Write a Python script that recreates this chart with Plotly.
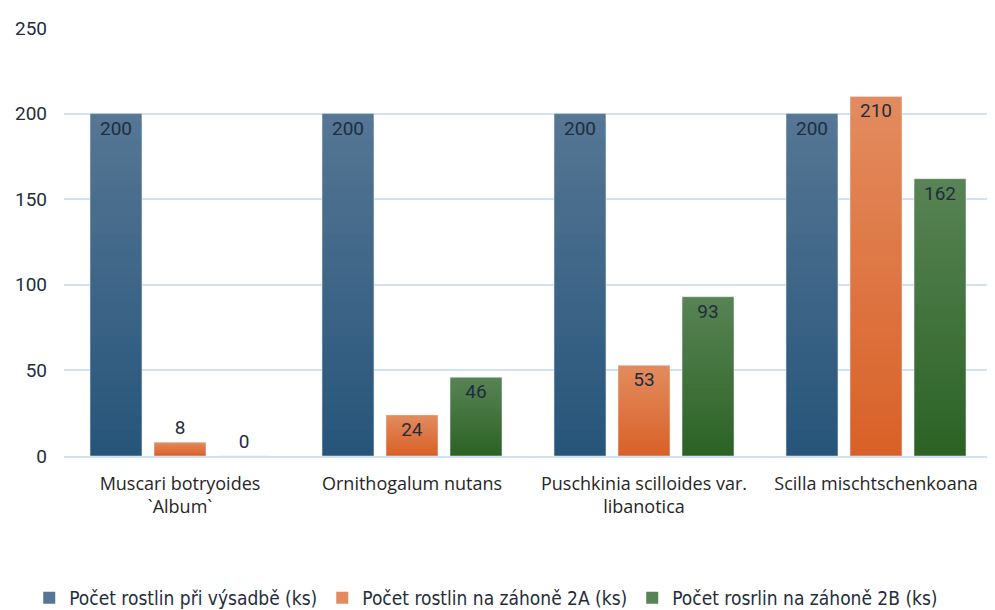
import plotly.graph_objects as go

# chart data
categories = ["Muscari botryoides<br>`Album`", "Ornithogalum nutans",
              "Puschkinia scilloides var.<br>libanotica", "Scilla mischtschenkoana"]
series_names = ["Počet rostlin při výsadbě (ks)",
                "Počet rostlin na záhoně 2A (ks)",
                "Počet rosrlin na záhoně 2B (ks)"]
vysadba = [200, 200, 200, 200]
zahon_2a = [8, 24, 53, 210]
zahon_2b = [0, 46, 93, 162]
y_ticks = [0, 50, 100, 150, 200, 250]

# (top colour, bottom colour) per series - bars fade darker downwards
colors = [((0x55, 0x76, 0x94), (0x27, 0x55, 0x7a)),
          ((0xe3, 0x8b, 0x5e), (0xd9, 0x61, 0x28)),
          ((0x58, 0x83, 0x54), (0x2c, 0x63, 0x25))]
N_BANDS = 40


def mix(c1, c2, t):
    return "rgb(%d,%d,%d)" % tuple(round(a + (b - a) * t) for a, b in zip(c1, c2))


fig = go.Figure()
all_series = [vysadba, zahon_2a, zahon_2b]

for s, (name, values) in enumerate(zip(series_names, all_series)):
    top, bottom = colors[s]
    for i in range(N_BANDS):
        frac = 1 - i / N_BANDS
        fig.add_trace(go.Bar(
            x=categories, y=[v * frac for v in values],
            name=name, legendgroup=name, offsetgroup=str(s),
            marker=dict(color=mix(top, bottom, i / (N_BANDS - 1)), line=dict(width=0)),
            showlegend=(i == 0), hoverinfo="skip",
        ))
    # transparent bar that only carries the data labels
    fig.add_trace(go.Bar(
        x=categories, y=values, offsetgroup=str(s), legendgroup=name,
        showlegend=False, marker=dict(color="rgba(0,0,0,0)"),
        text=[str(v) for v in values],
        textposition=["inside" if v > 20 else "outside" for v in values],
        insidetextanchor="end", cliponaxis=False,
        textfont=dict(size=19, color="#1f2d3d", family="Roboto"),
        name=name,
    ))

fig.update_layout(
    width=995, height=610,
    margin=dict(l=56, r=11, t=20, b=162, autoexpand=False),
    plot_bgcolor="white", paper_bgcolor="white",
    barmode="group", bargap=0.172, bargroupgap=0.19,
    uniformtext=dict(minsize=10, mode="show"),
    font=dict(family="Roboto", color="#2b2b2b"),
    legend=dict(orientation="h", x=0.455, xanchor="center",
                yref="container", y=0.033, yanchor="middle",
                font=dict(size=19, family="DejaVu Sans Condensed", color="#1f2d3d"),
                traceorder="normal", itemwidth=30, tracegroupgap=0),
    showlegend=True,
)
fig.update_yaxes(range=[0, 250], tickvals=y_ticks, showgrid=True, gridcolor="#d3e0f0",
                 gridwidth=2, zeroline=False, showline=False, ticks="",
                 tickfont=dict(size=19, color="#1f2d3d"), ticklabelstandoff=16)
fig.update_xaxes(showline=True, linecolor="#d3e0f0", linewidth=2, ticks="",
                 tickfont=dict(size=18, color="#262626", family="Open Sans"),
                 ticklabelstandoff=10)

fig.write_html("out.html")
